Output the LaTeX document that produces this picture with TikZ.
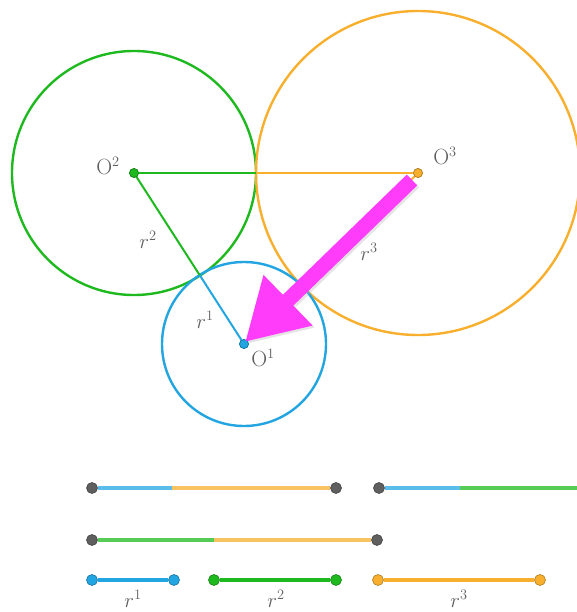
\documentclass[tikz,border=0pt]{standalone}
\usetikzlibrary{arrows.meta,calc}
\definecolor{cgreen}{RGB}{30,185,30}
\definecolor{cblue}{RGB}{35,165,225}
\definecolor{corange}{RGB}{248,175,45}
\definecolor{cmag}{RGB}{255,60,250}
\definecolor{cdot}{RGB}{95,95,95}
\definecolor{ctext}{RGB}{95,95,95}
\tikzset{
  circ/.style={line width=2.4pt},
  rad/.style={line width=2pt},
  seg/.style={line width=4pt},
  pale/.style={opacity=0.75},
  pt/.style={circle,inner sep=0pt,minimum size=11pt,fill=#1,draw=#1!70!black,line width=0.6pt},
  lab/.style={text=ctext,font=\fontsize{22}{25}\selectfont,inner sep=1pt},
  bigarrow/.style={line width=15pt,-{Triangle[length=60pt,width=66pt]}},
}
\begin{document}
\begin{tikzpicture}[x=1pt,y=-1pt]
\useasboundingbox (0,0) rectangle (577,612);
% centres
\node[pt=cblue,minimum size=9pt] (O1) at (244,344) {};
\node[pt=cgreen,minimum size=9pt] (O2) at (134,173) {};
\node[pt=corange,minimum size=9pt] (O3) at (418,173) {};
% circles
\draw[circ,cgreen] (O2.center) circle (122);
\draw[circ,corange] (O3.center) circle (162);
\draw[circ,cblue] (O1.center) circle (82);
% tangency points
\coordinate (T23) at (256,173);
\coordinate (T12) at ($(O2.center)!0.598!(O1.center)$);
\coordinate (T13) at ($(O3.center)!0.664!(O1.center)$);
% radii
\draw[rad,cgreen] (O2.center) -- (T23);
\draw[rad,corange] (T23) -- (O3.center);
\draw[rad,cgreen] (O2.center) -- (T12);
\draw[rad,cblue] (T12) -- (O1.center);
\draw[rad,corange] (O3.center) -- (T13);
\draw[rad,cblue] (T13) -- (O1.center);
\node[pt=cblue,minimum size=9pt] at (O1) {};
\node[pt=cgreen,minimum size=9pt] at (O2) {};
\node[pt=corange,minimum size=9pt] at (O3) {};
% labels
\node[lab] (l2) at (108,166) {O$^2$};
\node[lab] (l3) at (445,156) {O$^3$};
\node[lab] (l1) at (263,358) {O$^1$};
\node[lab] (r2) at (148,240) {$r^2$};
\node[lab] (r1) at (205,320) {$r^1$};
\node[lab] (r3) at (369,252) {$r^3$};
% magenta arrow
\coordinate (As) at (412,180);
\coordinate (Ae) at (245,342);
\draw[bigarrow,black!30,opacity=0.35] ($(As)+(2,2)$) -- ($(Ae)+(2,2)$);
\draw[bigarrow,cmag] (As) -- (Ae);
% bottom segments
\node[pt=cdot] (a1) at (92,488) {};
\coordinate (a2) at (172,488);
\node[pt=cdot] (a3) at (336,488) {};
\draw[seg,cblue,pale] (a1) -- (a2);
\draw[seg,corange,pale] (a2) -- (a3);
\node[pt=cdot] (b1) at (379,488) {};
\coordinate (b2) at (460,488);
\coordinate (b3) at (582,488);
\draw[seg,cblue,pale] (b1) -- (b2);
\draw[seg,cgreen,pale] (b2) -- (b3);
\node[pt=cdot] (c1) at (92,540) {};
\coordinate (c2) at (214,540);
\node[pt=cdot] (c3) at (377,540) {};
\draw[seg,cgreen,pale] (c1) -- (c2);
\draw[seg,corange,pale] (c2) -- (c3);
\node[pt=cblue] (d1) at (92,580) {};
\node[pt=cblue] (d2) at (174,580) {};
\draw[seg,cblue] (d1) -- (d2);
\node[pt=cgreen] (e1) at (214,580) {};
\node[pt=cgreen] (e2) at (336,580) {};
\draw[seg,cgreen] (e1) -- (e2);
\node[pt=corange] (f1) at (378,580) {};
\node[pt=corange] (f2) at (540,580) {};
\draw[seg,corange] (f1) -- (f2);
\node[lab] at (133,599) {$r^1$};
\node[lab] at (276,599) {$r^2$};
\node[lab] at (459,599) {$r^3$};
\end{tikzpicture}
\end{document}
